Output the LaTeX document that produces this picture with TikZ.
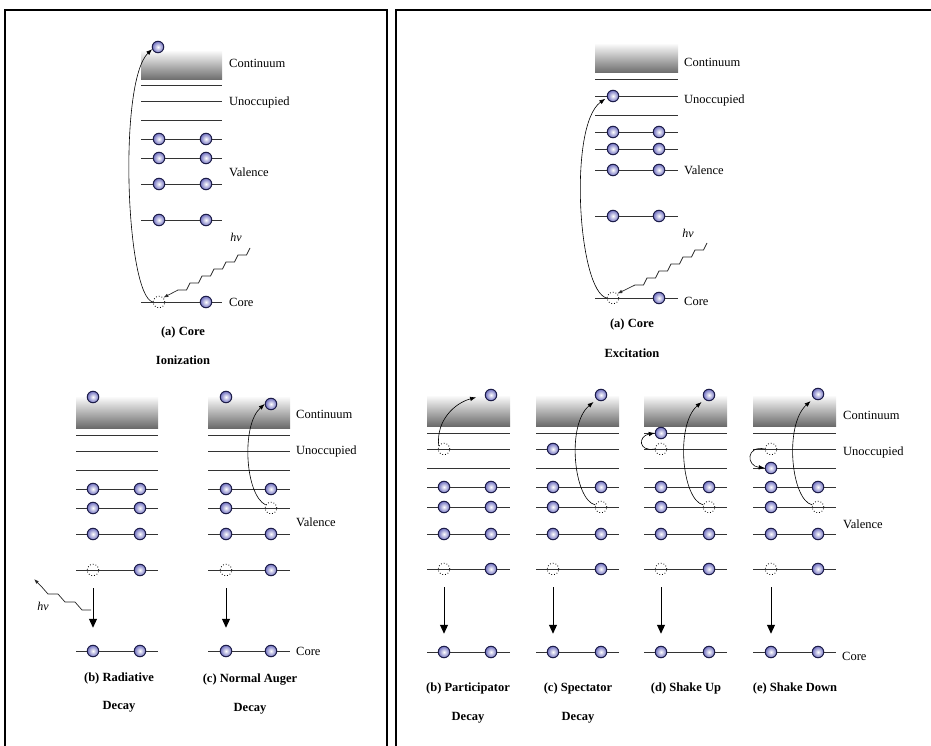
\documentclass[tikz,border=0pt]{standalone}
\usepackage{fontspec}
\setmainfont{Liberation Serif}
\usetikzlibrary{arrows.meta}
\definecolor{elfill}{RGB}{112,112,192}
\definecolor{eledge}{RGB}{28,28,72}
\newcommand\photonin[2]{\draw[photon] (#1) \foreach \k in {1,...,6} { -- ++(-3.5,7) -- ++(-8.5,0) } -- (#2);}
\begin{document}
\begin{tikzpicture}[x=1pt,y=-1pt,
  el/.style={circle, draw=eledge, line width=1pt, minimum size=11.5pt, inner sep=0pt, inner color=white, outer color=elfill},
  hole/.style={circle, draw=black, dotted, line width=0.8pt, minimum size=11.5pt, inner sep=0pt},
  lvl/.style={line width=0.9pt, black!80},
  lab/.style={anchor=west, inner sep=0pt, font=\fontsize{12.5}{14}\selectfont},
  captxt/.style={inner sep=0pt, font=\bfseries\fontsize{12.5}{14}\selectfont},
  hvlab/.style={inner sep=0pt, font=\itshape\fontsize{12}{14}\selectfont},
  jump/.style={-{Latex[length=6pt,width=4.5pt]}, line width=0.6pt},
  decay/.style={-{Triangle[length=9pt,width=8pt]}, line width=1pt},
  photon/.style={-{Latex[length=5pt,width=3.5pt]}, line width=0.7pt, black!85},
  cont/.style={top color=white, bottom color=black!58},
  frame/.style={line width=1.8pt}]
\useasboundingbox (0,0) rectangle (931,746);
% frames
\draw[frame] (5,760) -- (5,10) -- (387,10) -- (387,760);
\draw[frame] (396,760) -- (396,10) -- (945,10);

% ===================== (a) Core Ionization =====================
\shade[cont] (141,50) rectangle (222,80);
\foreach \y in {85,101,120,139,158,184,220,302} \draw[lvl] (141,\y) -- (222,\y);
\node[el] (aE) at (158,47) {};
\foreach \y/\n in {139/1,158/2,184/3,220/4} {\node[el] (aV\n a) at (159,\y) {}; \node[el] (aV\n b) at (206,\y) {};}
\node[hole] (aH) at (159,302) {};
\node[el] (aC) at (206,302) {};
\node[lab] (aL1) at (229,63) {Continuum};
\node[lab] (aL2) at (229,102) {Unoccupied};
\node[lab] (aL3) at (229,172) {Valence};
\node[lab] (aL4) at (229,302) {Core};
\node[hvlab] (aHV) at (236,237) {hv};
\node[captxt] (aT1) at (183,332) {(a) Core};
\node[captxt] (aT2) at (183,360) {Ionization};
\draw[jump] (aH.west) .. controls (126,296) and (118,82) .. (aE.200);
\coordinate (aP) at (250,248);
\photonin{aP}{aH.north east}

% ===================== (b) Radiative Decay =====================
\shade[cont] (76,396) rectangle (158,428);
\foreach \y in {435,451,470,489,508,534,570,651} \draw[lvl] (76,\y) -- (158,\y);
\node[el] (bE) at (93,397) {};
\foreach \y/\n in {489/1,508/2,534/3} {\node[el] (bV\n a) at (93,\y) {}; \node[el] (bV\n b) at (140,\y) {};}
\node[hole] (bH) at (93,570) {};
\node[el] (bV4b) at (140,570) {};
\node[el] (bC1) at (93,651) {};
\node[el] (bC2) at (140,651) {};
\draw[decay, shorten <=12pt, shorten >=17pt] (bH) -- (bC1);
\coordinate (bP) at (91,610);
\coordinate (bQ) at (34,579);
\draw[photon] (bP) -- ++(-9,0) -- ++(-7,-8) -- ++(-10,0) -- ++(-7,-8) -- ++(-10,0) -- ++(-7,-8) -- (bQ);
\node[hvlab] (bHV) at (43,606) {hv};
\node[captxt] (bT1) at (119,678) {(b) Radiative};
\node[captxt] (bT2) at (119,707) {Decay};

% ===================== (c) Normal Auger Decay =====================
\shade[cont] (208,396) rectangle (290,428);
\foreach \y in {435,451,470,489,508,534,570,651} \draw[lvl] (208,\y) -- (290,\y);
\node[el] (cE1) at (226,397) {};
\node[el] (cE) at (271,404) {};
\node[el] (cV1a) at (226,489) {}; \node[el] (cV1b) at (271,489) {};
\node[el] (cV2a) at (226,508) {}; \node[hole] (cVH) at (271,508) {};
\node[el] (cV3a) at (226,534) {}; \node[el] (cV3b) at (271,534) {};
\node[hole] (cH) at (226,570) {}; \node[el] (cV4b) at (271,570) {};
\node[el] (cC1) at (226,651) {};
\node[el] (cC2) at (271,651) {};
\draw[decay, shorten <=12pt, shorten >=17pt] (cH) -- (cC1);
\draw[jump] (cVH.150) .. controls (245,495) and (241,425) .. (cE.west);
\node[lab] (cL1) at (296,414) {Continuum};
\node[lab] (cL2) at (296,451) {Unoccupied};
\node[lab] (cL3) at (296,522) {Valence};
\node[lab] (cL4) at (296,651) {Core};
\node[captxt] (cT1) at (250,680) {(c) Normal Auger};
\node[captxt] (cT2) at (250,709) {Decay};

% ===================== (a) Core Excitation =====================
\shade[cont] (595,43) rectangle (678,73);
\foreach \y in {79,96,115,132,149,170,216,298} \draw[lvl] (595,\y) -- (678,\y);
\node[el] (rE) at (613,96) {};
\foreach \y/\n in {132/1,149/2,170/3,216/4} {\node[el] (rV\n a) at (613,\y) {}; \node[el] (rV\n b) at (659,\y) {};}
\node[hole] (rH) at (613,298) {};
\node[el] (rC) at (659,298) {};
\node[lab] (rL1) at (684,62) {Continuum};
\node[lab] (rL2) at (684,100) {Unoccupied};
\node[lab] (rL3) at (684,170) {Valence};
\node[lab] (rL4) at (684,301) {Core};
\node[hvlab] (rHV) at (688,233) {hv};
\node[captxt] (rT1) at (632,324) {(a) Core};
\node[captxt] (rT2) at (632,353) {Excitation};
\draw[jump, shorten >=2pt] (rH.west) .. controls (578,292) and (568,125) .. (rE.195);
\coordinate (rP) at (707,243);
\photonin{rP}{rH.north east}

% ===================== bottom right common =====================
\foreach \xl in {427,536,644,753} {
  \shade[cont] (\xl,395) rectangle ++(83,31);
  \foreach \y in {433,449,468,487,507,534,569,652} \draw[lvl] (\xl,\y) -- ++(83,0);
}

% (b) Participator
\node[el] (pE) at (491,395) {};
\node[hole] (pUH) at (444,449) {};
\node[el] (pV1a) at (444,487) {}; \node[el] (pV1b) at (491,487) {};
\node[el] (pV2a) at (444,507) {}; \node[el] (pV2b) at (491,507) {};
\node[el] (pV3a) at (444,534) {}; \node[el] (pV3b) at (491,534) {};
\node[hole] (pH) at (444,569) {}; \node[el] (pV4b) at (491,569) {};
\node[el] (pC1) at (444,652) {}; \node[el] (pC2) at (491,652) {};
\draw[decay, shorten <=12pt, shorten >=12pt] (pH) -- (pC1);
\draw[jump, shorten >=9pt] (pUH.150) .. controls (436,420) and (455,403) .. (pE.west);
\node[captxt] (pT1) at (468,688) {(b) Participator};
\node[captxt] (pT2) at (468,718) {Decay};

% (c) Spectator
\node[el] (sE) at (601,395) {};
\node[el] (sUE) at (553,449) {};
\node[el] (sV1a) at (553,487) {}; \node[el] (sV1b) at (601,487) {};
\node[el] (sV2a) at (553,507) {}; \node[hole] (sVH) at (601,507) {};
\node[el] (sV3a) at (553,534) {}; \node[el] (sV3b) at (601,534) {};
\node[hole] (sH) at (553,569) {}; \node[el] (sV4b) at (601,569) {};
\node[el] (sC1) at (553,652) {}; \node[el] (sC2) at (601,652) {};
\draw[decay, shorten <=12pt, shorten >=12pt] (sH) -- (sC1);
\draw[jump, shorten >=4pt] (sVH.160) .. controls (574,500) and (566,425) .. (sE.225);
\node[captxt] (sT1) at (578,688) {(c) Spectator};
\node[captxt] (sT2) at (578,718) {Decay};

% (d) Shake Up
\node[el] (dE) at (709,395) {};
\node[el] (dUE) at (661,433) {};
\node[hole] (dUH) at (661,449) {};
\node[el] (dV1a) at (661,487) {}; \node[el] (dV1b) at (709,487) {};
\node[el] (dV2a) at (661,507) {}; \node[hole] (dVH) at (709,507) {};
\node[el] (dV3a) at (661,534) {}; \node[el] (dV3b) at (709,534) {};
\node[hole] (dH) at (661,569) {}; \node[el] (dV4b) at (709,569) {};
\node[el] (dC1) at (661,652) {}; \node[el] (dC2) at (709,652) {};
\draw[decay, shorten <=12pt, shorten >=12pt] (dH) -- (dC1);
\draw[jump] (dUH.west) .. controls (638,452) and (638,436) .. (dUE.west);
\draw[jump, shorten >=4pt] (dVH.160) .. controls (682,500) and (675,425) .. (dE.225);
\node[captxt] (dT1) at (686,688) {(d) Shake Up};

% (e) Shake Down
\node[el] (eE) at (818,394) {};
\node[hole] (eUH) at (771,449) {};
\node[el] (eDE) at (771,468) {};
\node[el] (eV1a) at (771,487) {}; \node[el] (eV1b) at (818,487) {};
\node[el] (eV2a) at (771,507) {}; \node[hole] (eVH) at (818,507) {};
\node[el] (eV3a) at (771,534) {}; \node[el] (eV3b) at (818,534) {};
\node[hole] (eH) at (771,569) {}; \node[el] (eV4b) at (818,569) {};
\node[el] (eC1) at (771,652) {}; \node[el] (eC2) at (818,652) {};
\draw[decay, shorten <=12pt, shorten >=12pt] (eH) -- (eC1);
\draw[jump] (eUH.west) .. controls (746,445) and (746,466) .. (eDE.west);
\draw[jump, shorten >=4pt] (eVH.160) .. controls (791,500) and (784,425) .. (eE.225);
\node[captxt] (eT1) at (795,688) {(e) Shake Down};
\node[lab] (eL1) at (843,415) {Continuum};
\node[lab] (eL2) at (843,452) {Unoccupied};
\node[lab] (eL3) at (843,524) {Valence};
\node[lab] (eL4) at (842,656) {Core};
\end{tikzpicture}
\end{document}
